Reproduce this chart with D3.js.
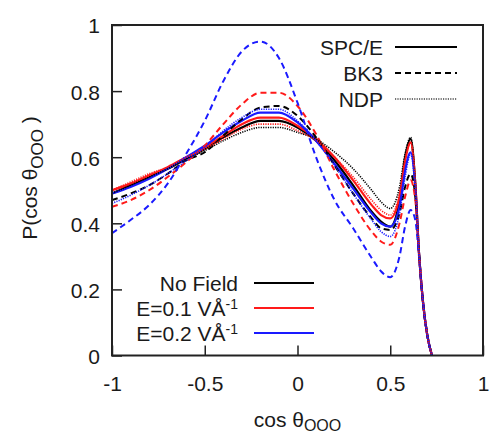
<!DOCTYPE html>
<html>
<head>
<meta charset="utf-8">
<script src="https://cdn.jsdelivr.net/npm/d3@7"></script>
<style>
  html, body { margin: 0; padding: 0; background: #fff; }
  svg { display: block; }
  text { font-family: "Liberation Sans", Arial, Helvetica, sans-serif; fill: #1a1a1a; }
</style>
</head>
<body>
<svg id="chart" width="490" height="435"></svg>
<script>
// ---- data ----
const xValues = [-1, -0.9, -0.8, -0.7, -0.6, -0.5, -0.4, -0.3, -0.2, -0.1, 0, 0.1, 0.2, 0.3, 0.4, 0.45, 0.5, 0.55, 0.58, 0.61, 0.635, 0.655, 0.675, 0.7, 0.725];

const spceNoField = [0.49, 0.515, 0.54, 0.565, 0.595, 0.625, 0.66, 0.69, 0.71, 0.71, 0.69, 0.65, 0.59, 0.515, 0.435, 0.405, 0.39, 0.47, 0.60, 0.655, 0.52, 0.31, 0.17, 0.06, 0];
const spceE01    = [0.50, 0.52, 0.545, 0.57, 0.60, 0.63, 0.665, 0.70, 0.72, 0.72, 0.695, 0.655, 0.60, 0.53, 0.455, 0.425, 0.415, 0.48, 0.59, 0.645, 0.52, 0.31, 0.17, 0.06, 0];
const spceE02    = [0.49, 0.51, 0.535, 0.565, 0.60, 0.635, 0.675, 0.71, 0.735, 0.735, 0.705, 0.65, 0.58, 0.505, 0.43, 0.40, 0.39, 0.45, 0.56, 0.615, 0.51, 0.31, 0.17, 0.06, 0];

const bk3NoField = [0.47, 0.49, 0.515, 0.55, 0.59, 0.615, 0.665, 0.715, 0.75, 0.755, 0.725, 0.66, 0.575, 0.49, 0.415, 0.385, 0.38, 0.43, 0.51, 0.55, 0.48, 0.31, 0.17, 0.06, 0];
const bk3E01     = [0.45, 0.47, 0.50, 0.54, 0.585, 0.635, 0.70, 0.76, 0.795, 0.795, 0.755, 0.67, 0.56, 0.46, 0.375, 0.345, 0.335, 0.40, 0.48, 0.53, 0.47, 0.31, 0.17, 0.06, 0];
const bk3E02     = [0.37, 0.41, 0.455, 0.52, 0.61, 0.71, 0.83, 0.92, 0.95, 0.90, 0.765, 0.60, 0.47, 0.385, 0.295, 0.255, 0.237, 0.30, 0.39, 0.44, 0.41, 0.30, 0.17, 0.06, 0];

const ndpNoField = [0.49, 0.515, 0.54, 0.565, 0.595, 0.62, 0.65, 0.675, 0.69, 0.69, 0.675, 0.655, 0.615, 0.565, 0.50, 0.465, 0.445, 0.51, 0.61, 0.66, 0.52, 0.31, 0.17, 0.06, 0];
const ndpE01     = [0.50, 0.525, 0.55, 0.57, 0.60, 0.625, 0.655, 0.685, 0.70, 0.70, 0.68, 0.65, 0.60, 0.54, 0.47, 0.44, 0.425, 0.49, 0.59, 0.645, 0.52, 0.31, 0.17, 0.06, 0];
const ndpE02     = [0.46, 0.485, 0.515, 0.55, 0.59, 0.63, 0.68, 0.72, 0.745, 0.745, 0.71, 0.65, 0.575, 0.49, 0.41, 0.375, 0.36, 0.43, 0.54, 0.61, 0.50, 0.31, 0.17, 0.06, 0];

const xTicks = [-1, -0.5, 0, 0.5, 1];
const yTicks = [0, 0.2, 0.4, 0.6, 0.8, 1];
const modelNames = ["SPC/E", "BK3", "NDP"];
const fieldNames = ["No Field", "E=0.1 VÅ", "E=0.2 VÅ"];
const fieldColors = ["#000000", "#ff1a1a", "#1a1aff"];

// ---- layout ----
const svg = d3.select("#chart");
const L = 112, R = 483, T = 25, B = 355.5;
const x = d3.scaleLinear().domain([-1, 1]).range([L, R]);
const y = d3.scaleLinear().domain([0, 1]).range([B, T]);

const styles = {
  solid:  { width: 2.2, dash: null },
  dashed: { width: 2.0, dash: "6,4" },
  dotted: { width: 1.6, dash: "1.2,1.2" }
};
const series = [
  { values: spceNoField, model: 0, field: 0, style: "solid" },
  { values: spceE01,     model: 0, field: 1, style: "solid" },
  { values: spceE02,     model: 0, field: 2, style: "solid" },
  { values: bk3NoField,  model: 1, field: 0, style: "dashed" },
  { values: bk3E01,      model: 1, field: 1, style: "dashed" },
  { values: bk3E02,      model: 1, field: 2, style: "dashed" },
  { values: ndpNoField,  model: 2, field: 0, style: "dotted" },
  { values: ndpE01,      model: 2, field: 1, style: "dotted" },
  { values: ndpE02,      model: 2, field: 2, style: "dotted" }
];

svg.append("defs").append("clipPath").attr("id", "clip")
  .append("rect").attr("x", L).attr("y", T).attr("width", R - L).attr("height", B - T);

const line = d3.line()
  .x((d, i) => x(xValues[i]))
  .y(d => y(d))
  .curve(d3.curveMonotoneX);

const g = svg.append("g").attr("clip-path", "url(#clip)");
series.forEach(s => {
  const st = styles[s.style];
  g.append("path")
    .attr("d", line(s.values))
    .attr("fill", "none")
    .attr("stroke", fieldColors[s.field])
    .attr("stroke-width", st.width)
    .attr("stroke-dasharray", st.dash)
    .attr("stroke-linejoin", "round");
});

// ---- axes ----
const xAxis = d3.axisBottom(x).tickValues(xTicks).tickSize(-10).tickPadding(21)
  .tickFormat(d => d3.format("")(d).replace("−", "-"));
const yAxis = d3.axisLeft(y).tickValues(yTicks).tickSize(-10).tickPadding(12)
  .tickFormat(d => d3.format("")(d).replace("−", "-"));

const gx = svg.append("g").attr("transform", `translate(0,${B})`).call(xAxis);
const gy = svg.append("g").attr("transform", `translate(${L},0)`).call(yAxis);
[gx, gy].forEach(a => {
  a.select(".domain").remove();
  a.selectAll(".tick line").attr("stroke", "#222").attr("stroke-width", 1.5);
  a.selectAll(".tick text").attr("font-size", 21).style("font-family", "'Liberation Sans', Arial, sans-serif").attr("fill", "#1a1a1a");
});
gy.selectAll(".tick text").attr("dy", "0.38em");

svg.append("rect")
  .attr("x", L).attr("y", T).attr("width", R - L).attr("height", B - T)
  .attr("fill", "none").attr("stroke", "#222").attr("stroke-width", 2);

// ---- axis titles ----
const xt = svg.append("text").attr("x", x(0)).attr("y", 427)
  .attr("text-anchor", "middle").attr("font-size", 21);
xt.append("tspan").text("cos θ");
xt.append("tspan").attr("dy", 4).attr("font-size", 16).text("OOO");

const yt = svg.append("text")
  .attr("transform", `translate(37,178) rotate(-90)`)
  .attr("text-anchor", "middle").attr("font-size", 21);
yt.append("tspan").text("P(cos θ");
yt.append("tspan").attr("dy", 6).attr("font-size", 17).text("OOO");
yt.append("tspan").attr("dy", -6).text(" )");

// ---- legend: models ----
const modelStyles = ["solid", "dashed", "dotted"];
const legY1 = [47, 73, 99];
modelNames.forEach((name, i) => {
  const st = styles[modelStyles[i]];
  svg.append("text").attr("x", 383).attr("y", legY1[i]).attr("dy", "0.36em")
    .attr("text-anchor", "end").attr("font-size", 21).text(name);
  svg.append("line").attr("x1", 395).attr("x2", 457).attr("y1", legY1[i]).attr("y2", legY1[i])
    .attr("stroke", i === 2 ? "#444" : "#000").attr("stroke-width", st.width)
    .attr("stroke-dasharray", st.dash);
});

// ---- legend: fields ----
const legY2 = [283, 308, 333];
fieldNames.forEach((name, i) => {
  const t = svg.append("text").attr("x", 238).attr("y", legY2[i]).attr("dy", "0.36em")
    .attr("text-anchor", "end").attr("font-size", 21);
  t.append("tspan").text(name);
  if (i > 0) t.append("tspan").attr("dy", -7).attr("font-size", 14).text("-1");
  svg.append("line").attr("x1", 254).attr("x2", 314).attr("y1", legY2[i]).attr("y2", legY2[i])
    .attr("stroke", fieldColors[i]).attr("stroke-width", 2.2);
});
</script>
</body>
</html>
